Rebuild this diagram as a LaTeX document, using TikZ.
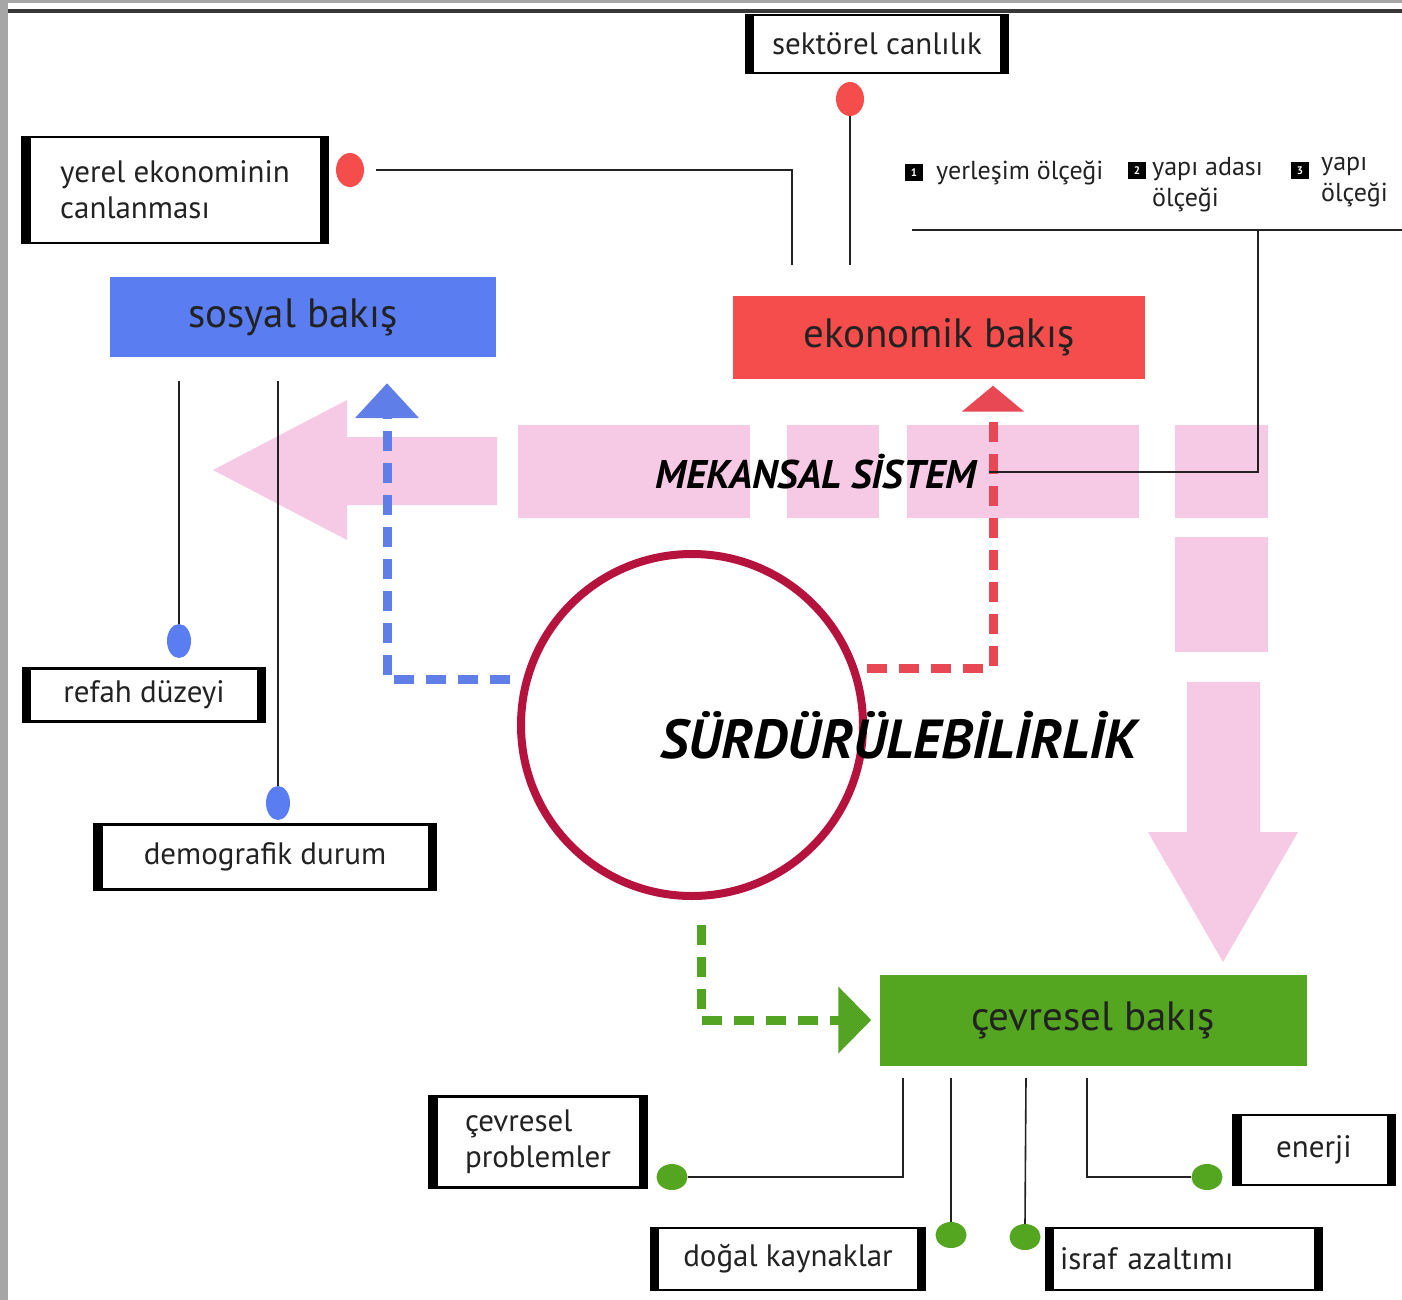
\documentclass[tikz,border=0pt]{standalone}
\usepackage{fontspec}
\setmainfont{PT Sans}
\usetikzlibrary{positioning,arrows.meta,shapes.geometric}

\definecolor{sosyalrenk}{RGB}{90,126,242}
\definecolor{ekonomikrenk}{RGB}{245,76,76}
\definecolor{cevrerenk}{RGB}{84,166,32}
\definecolor{pembe}{RGB}{246,202,229}
\definecolor{bordo}{RGB}{182,18,62}
\definecolor{kesikmavi}{RGB}{96,126,232}
\definecolor{kesikkirmizi}{RGB}{232,72,84}
\definecolor{kesikyesil}{RGB}{84,164,36}
\definecolor{cerceve}{RGB}{166,166,166}
\definecolor{yazi}{RGB}{34,34,34}

\tikzset{
  etiket/.style={draw=black, line width=2.5pt, fill=white, inner sep=0pt,
    font=\fontsize{31}{36}\selectfont, text=yazi,
    path picture={
      \fill[black] (path picture bounding box.south west) rectangle ([xshift=8pt]path picture bounding box.north west);
      \fill[black] (path picture bounding box.south east) rectangle ([xshift=-8pt]path picture bounding box.north east);}},
  bakis/.style={inner sep=0pt, font=\fontsize{41}{44}\selectfont, text=yazi},
  ince/.style={draw=yazi, line width=1.6pt},
  kirmizinokta/.style={ellipse, fill=ekonomikrenk, inner sep=0pt, minimum width=28pt, minimum height=34pt},
  mavinokta/.style={ellipse, fill=sosyalrenk, inner sep=0pt, minimum width=24pt, minimum height=34pt},
  yesilnokta/.style={ellipse, fill=cevrerenk, inner sep=0pt, minimum width=31pt, minimum height=26pt},
  kesik/.style={line width=9pt, dash pattern=on 20pt off 12pt},
  numara/.style={fill=black, text=white, inner sep=0pt, minimum width=18pt, minimum height=17pt,
    font=\bfseries\fontsize{11}{11}\selectfont},
  lejant/.style={inner sep=0pt, align=left, text=yazi, font=\fontsize{26}{31}\selectfont}
}

\begin{document}
\begin{tikzpicture}[x=1pt,y=-1pt]
  \useasboundingbox (0,0) rectangle (1402,1300);
  % frame
  \fill[white] (0,0) rectangle (1402,1300);
  \fill[cerceve] (0,0) rectangle (8,1300);
  \fill[cerceve] (0,0) rectangle (1402,3);
  \fill[yazi!90] (8,9) rectangle (1402,13);

  % mekansal sistem band
  \fill[pembe] (497,437) -- (347,437) -- (347,400) -- (213,470) -- (347,540)
    -- (347,505) -- (497,505) -- cycle;
  \fill[pembe] (518,425) rectangle (750,518);
  \fill[pembe] (787,425) rectangle (879,518);
  \fill[pembe] (907,425) rectangle (1139,518);
  \fill[pembe] (1175,425) rectangle (1268,518);
  \fill[pembe] (1175,537) rectangle (1268,652);
  \fill[pembe] (1187,682) -- (1260,682) -- (1260,832) -- (1298,832) -- (1223,962)
    -- (1148,832) -- (1187,832) -- cycle;

  % main boxes
  \node[bakis, fill=sosyalrenk, minimum width=386pt, minimum height=80pt] (sosyal) at (303,317) {\hspace*{-20pt}sosyal bakış};
  \node[bakis, fill=ekonomikrenk, minimum width=412pt, minimum height=83pt] (ekonomik) at (939,337) {ekonomik bakış};
  \node[bakis, fill=cevrerenk, minimum width=427pt, minimum height=91pt] (cevre) at (1093,1020) {çevresel bakış};

  \node[circle, draw=bordo, line width=8pt, minimum size=342pt, inner sep=0pt] (halka) at (692,725) {};
  \node[inner sep=0pt, text=black, font=\bfseries\itshape\fontsize{40}{44}\selectfont] (mekansal) at (816,472) {MEKANSAL SİSTEM};

  % dashed arrows
  \coordinate (mx) at (387,0);
  \coordinate (kx) at (993,0);
  \draw[kesik, kesikmavi, shorten <=13pt, shorten >=26pt, -{Triangle[width=62pt,length=35pt]}]
    (halka.165) -| (sosyal.south -| mx);
  \draw[kesik, kesikkirmizi, shorten <=10pt, shorten >=7pt, -{Triangle[width=61pt,length=26pt]}]
    (halka.19) -| (ekonomik.south -| kx);
  \draw[kesik, kesikyesil, shorten <=25pt, shorten >=8pt, -{Triangle[width=65pt,length=33pt]}]
    ([xshift=9pt]halka.south) |- (cevre.west);

  \node[inner sep=0pt, text=black, font=\bfseries\itshape\fontsize{55}{58}\selectfont] (surdur) at (899,735) {SÜRDÜRÜLEBİLİRLİK};

  % ekonomik
  \node[etiket, minimum width=262pt, minimum height=58pt] (sektorel) at (877,44) {sektörel canlılık};
  \node[etiket, align=left, minimum width=305pt, minimum height=106pt] (yerel) at (175,190) {yerel ekonominin\\canlanması};
  \node[kirmizinokta] (sektorelnokta) at (850,99) {};
  \node[kirmizinokta] (yerelnokta) at (350,170) {};
  \coordinate (e1) at (792,265);
  \coordinate (e2) at (850,265);
  \draw[ince] (sektorelnokta.south) -- (e2);
  \draw[ince, shorten <=12pt] (yerelnokta.east) -| (e1);

  % olcek
  \node[numara] (n1) at (914,173) {1};
  \node[lejant, anchor=west] (l1) at (936,173) {yerleşim ölçeği};
  \node[numara] (n2) at (1137,171) {2};
  \node[lejant, anchor=north west] (l2) at (1152,157) {yapı adası\\ölçeği};
  \node[numara] (n3) at (1300,171) {3};
  \node[lejant, anchor=north west] (l3) at (1321,157) {yapı\\ölçeği};
  \coordinate (o1) at (912,230);
  \coordinate (o2) at (1402,230);
  \coordinate (o3) at (1258,230);
  \draw[ince] (o1) -- (o2);
  \draw[ince, shorten <=13pt] (mekansal.east) -| (o3);

  % sosyal
  \node[etiket, minimum width=242pt, minimum height=53pt] (refah) at (144,695) {refah düzeyi};
  \node[etiket, minimum width=341pt, minimum height=65pt] (demografik) at (265,857) {demografik durum};
  \node[mavinokta] (refahnokta) at (179,641) {};
  \node[mavinokta] (demografiknokta) at (278,803) {};
  \coordinate (s1) at (179,381);
  \coordinate (s2) at (278,381);
  \draw[ince] (s1) -- (refahnokta.north);
  \draw[ince] (s2) -- (demografiknokta.north);

  % cevresel
  \node[etiket, align=left, minimum width=217pt, minimum height=91pt] (problem) at (538,1142) {çevresel\\problemler};
  \node[etiket, minimum width=161pt, minimum height=70pt] (enerji) at (1314,1150) {enerji};
  \node[etiket, minimum width=274pt, minimum height=62pt] (dogal) at (788,1259) {doğal kaynaklar};
  \node[etiket, align=left, text width=248pt, inner xsep=14pt, minimum height=62pt] (israf) at (1184,1259) {israf azaltımı};
  \node[yesilnokta] (problemnokta) at (672,1177) {};
  \node[yesilnokta] (enerjinokta) at (1207,1177) {};
  \node[yesilnokta] (dogalnokta) at (951,1235) {};
  \node[yesilnokta] (israfnokta) at (1025,1237) {};
  \coordinate (c1) at (903,1078);
  \coordinate (c2) at (951,1078);
  \coordinate (c3) at (1026,1078);
  \coordinate (c4) at (1087,1078);
  \draw[ince] (c1) |- (problemnokta.east);
  \draw[ince] (c2) -- (dogalnokta.north);
  \draw[ince] (c3) -- (israfnokta.north);
  \draw[ince] (c4) |- (enerjinokta.west);
\end{tikzpicture}
\end{document}
